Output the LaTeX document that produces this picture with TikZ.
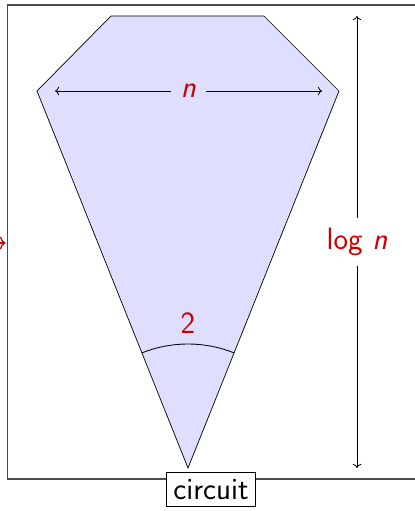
\documentclass[tikz,border=0pt]{standalone}
\usepackage{xcolor}
\usepackage{tikz}
\usetikzlibrary{arrows.meta, positioning}
\definecolor{labelred}{RGB}{204,0,0}

\begin{document}
\begin{tikzpicture}[
    every node/.style={font=\fontsize{22}{26}\selectfont\sffamily},
    frame/.style={draw=black!70, line width=0.8pt},
    cone/.style={draw, fill=blue!13, line width=0.5pt},
    measure/.style={<->, line width=0.6pt},
    lbl/.style={text=labelred, inner sep=2pt}
]
    \useasboundingbox (0,0) rectangle (10.35,12.775);

    % outer frame
    \draw[frame] (10.8,0.8) -- (0.1875,0.8) -- (0.1875,12.65) -- (10.8,12.65);
    \draw[-{To[length=4pt, width=9pt]}, labelred, line width=0.9pt] (-1,6.7) -- (0.14,6.7);

    % circuit shape
    \coordinate (tl) at (2.775,12.375);
    \coordinate (tr) at (6.6,12.375);
    \coordinate (r) at (8.475,10.5);
    \coordinate (apex) at (4.7,1.075);
    \coordinate (l) at (0.925,10.5);
    \draw[cone] (tl) -- (tr) -- (r) -- (apex) -- (l) -- cycle;

    % width
    \coordinate (wl) at (1.375,10.5);
    \coordinate (wr) at (8.05,10.5);
    \draw[measure] (wl) -- node[lbl, fill=blue!13, inner sep=7pt] (width) {\textit{n}} (wr);

    % depth
    \coordinate (dtop) at (8.925,12.375);
    \coordinate (dbot) at (8.925,1.075);
    \draw[measure] (dtop) -- node[lbl, fill=white, inner sep=7pt] (depth) {log \textit{n}} (dbot);

    % fan-in
    \draw[line width=0.6pt] ([shift={(68.2:3.1)}]apex) arc[start angle=68.2, end angle=111.8, radius=3.1];
    \node[lbl] (fanin) at (4.7,4.7) {2};

    \node[draw, fill=white, anchor=north, inner sep=5pt] (circuit) at (5.275,0.975) {circuit};
\end{tikzpicture}
\end{document}
